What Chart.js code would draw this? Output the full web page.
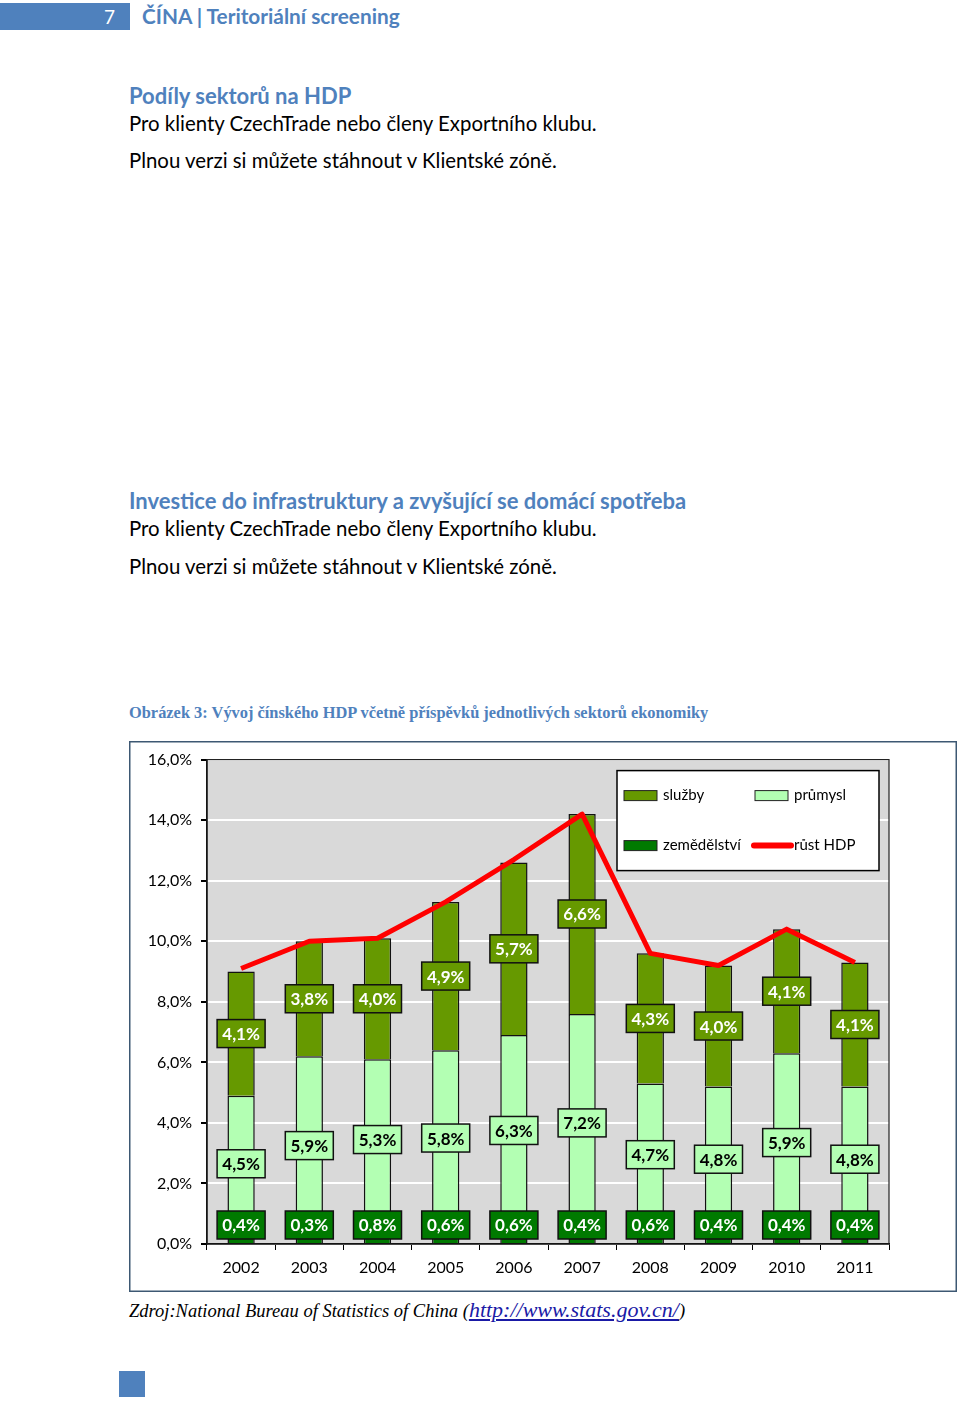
<!DOCTYPE html>
<html lang="cs">
<head>
<meta charset="utf-8">
<title>Čína – vývoj HDP</title>
<script src="https://cdn.jsdelivr.net/npm/chart.js@4.4.1/dist/chart.umd.min.js"></script>
<style>
body{margin:0;width:960px;height:1402px;position:relative;background:#fff;font-family:Lato,"Noto Sans",sans-serif;overflow:hidden}
.t{position:absolute;white-space:nowrap;line-height:1}
.blue{color:#4f81bd}
.h{font-weight:bold;font-size:22px}
.p{font-size:20.4px;color:#000}
#chart{position:absolute;left:129px;top:741px}
.src{font-family:"Liberation Serif",serif;font-style:italic;font-size:18.5px;color:#000}
.src a{color:#1a1aa6;font-size:22px;text-decoration:underline}
</style>
</head>
<body>
<div style="position:absolute;left:0;top:3px;width:130px;height:27px;background:#4f81bd"></div>
<div class="t" style="left:104px;top:7px;color:#fff;font-size:19px">7</div>
<div class="t blue" style="left:142px;top:6px;font-size:20.8px;font-weight:bold">ČÍNA | Teritoriální screening</div>

<div class="t blue h" style="left:129px;top:85px">Podíly sektorů na HDP</div>
<div class="t p" style="left:129px;top:113px">Pro klienty CzechTrade nebo členy Exportního klubu.</div>
<div class="t p" style="left:129px;top:150px">Plnou verzi si můžete stáhnout v Klientské zóně.</div>

<div class="t blue h" style="left:129px;top:490px">Investice do infrastruktury a zvyšující se domácí spotřeba</div>
<div class="t p" style="left:129px;top:518px">Pro klienty CzechTrade nebo členy Exportního klubu.</div>
<div class="t p" style="left:129px;top:556px">Plnou verzi si můžete stáhnout v Klientské zóně.</div>

<div class="t blue" style="left:129px;top:705px;font-family:'Liberation Serif',serif;font-weight:bold;font-size:16.4px">Obrázek 3: Vývoj čínského HDP včetně příspěvků jednotlivých sektorů ekonomiky</div>

<canvas id="chart" width="828" height="551"></canvas>

<div class="t src" style="left:129px;top:1299px">Zdroj:National Bureau of Statistics of China (<a>http://www.stats.gov.cn/</a>)</div>

<div style="position:absolute;left:119px;top:1371px;width:26px;height:26px;background:#4f81bd"></div>

<script>
// data
const years = ['2002', '2003', '2004', '2005', '2006', '2007', '2008', '2009', '2010', '2011'];
const zemedelstvi = [0.4, 0.3, 0.8, 0.6, 0.6, 0.4, 0.6, 0.4, 0.4, 0.4];
const prumysl = [4.5, 5.9, 5.3, 5.8, 6.3, 7.2, 4.7, 4.8, 5.9, 4.8];
const sluzby = [4.1, 3.8, 4.0, 4.9, 5.7, 6.6, 4.3, 4.0, 4.1, 4.1];
const rustHdp = [9.1, 10.0, 10.1, 11.3, 12.7, 14.2, 9.6, 9.2, 10.4, 9.3];
const yMin = 0, yMax = 16, yStep = 2;

const colZem = '#007a00';
const colPrum = '#b3ffb3';
const colSluz = '#669900';
const colHdp = '#ff0000';

function pct(v){
  return v.toFixed(1).replace('.', ',') + '%';
}

// frame + grey plot background + plot border
const backdrop = {
  id: 'backdrop',
  beforeDraw(chart){
    const c = chart.ctx, a = chart.chartArea;
    c.save();
    c.fillStyle = '#fff';
    c.fillRect(0, 0, chart.width, chart.height);
    c.strokeStyle = '#3d5873';
    c.lineWidth = 1.5;
    c.strokeRect(0.75, 0.75, chart.width - 1.5, chart.height - 1.5);
    c.fillStyle = '#d9d9d9';
    c.fillRect(a.left, a.top, a.right - a.left, a.bottom - a.top);
    c.restore();
  },
  beforeDatasetsDraw(chart){
    const c = chart.ctx, a = chart.chartArea;
    c.save();
    c.strokeStyle = '#222';
    c.lineWidth = 1.2;
    c.strokeRect(a.left, a.top, a.right - a.left, a.bottom - a.top);
    c.restore();
  }
};

// boxed value labels on the bar segments
const boxLabels = {
  id: 'boxLabels',
  afterDatasetsDraw(chart){
    const c = chart.ctx, a = chart.chartArea;
    c.save();
    c.font = 'bold 17px Lato, sans-serif';
    c.textAlign = 'center';
    c.textBaseline = 'middle';
    chart.data.datasets.forEach((ds, i) => {
      if (ds.type === 'line') return;
      chart.getDatasetMeta(i).data.forEach((el, j) => {
        const w = 48, h = 28;
        let y = (el.y + el.base) / 2;
        if (y > a.bottom - 19) y = a.bottom - 19;
        c.fillStyle = ds.backgroundColor;
        c.fillRect(el.x - w / 2, y - h / 2, w, h);
        c.strokeStyle = '#111';
        c.lineWidth = 1.5;
        c.strokeRect(el.x - w / 2, y - h / 2, w, h);
        c.fillStyle = ds.labelColor;
        c.fillText(pct(ds.data[j]), el.x, y + 1);
      });
    });
    c.restore();
  }
};

// legend box inside the plot (2 x 2)
const boxLegend = {
  id: 'boxLegend',
  afterDraw(chart){
    const c = chart.ctx, a = chart.chartArea;
    const L = a.right - 272, T = a.top + 11, W = 262, H = 100;
    c.save();
    c.fillStyle = '#fff';
    c.fillRect(L, T, W, H);
    c.strokeStyle = '#000';
    c.lineWidth = 1.5;
    c.strokeRect(L, T, W, H);
    c.font = '15px Lato, sans-serif';
    c.textBaseline = 'middle';
    c.textAlign = 'left';
    const items = [
      {t: 'služby', col: colSluz, x: L + 7, y: T + 25},
      {t: 'průmysl', col: colPrum, x: L + 138, y: T + 25},
      {t: 'zemědělství', col: colZem, x: L + 7, y: T + 75},
      {t: 'růst HDP', col: colHdp, x: L + 138, y: T + 75, line: true}
    ];
    items.forEach(it => {
      if (it.line) {
        c.strokeStyle = it.col;
        c.lineWidth = 6;
        c.lineCap = 'round';
        c.beginPath();
        c.moveTo(it.x - 1, it.y);
        c.lineTo(it.x + 36, it.y);
        c.stroke();
      } else {
        c.fillStyle = it.col;
        c.fillRect(it.x, it.y - 5, 33, 10);
        c.strokeStyle = '#222';
        c.lineWidth = 1;
        c.strokeRect(it.x, it.y - 5, 33, 10);
      }
      c.fillStyle = '#000';
      c.fillText(it.t, it.x + 39, it.y);
    });
    c.restore();
  }
};

new Chart(document.getElementById('chart').getContext('2d'), {
  type: 'bar',
  data: {
    labels: years,
    datasets: [
      {
        type: 'line',
        label: 'růst HDP',
        data: rustHdp,
        stack: 'hdp',
        order: 0,
        borderColor: colHdp,
        borderWidth: 5,
        pointRadius: 0,
        tension: 0,
        borderJoinStyle: 'round'
      },
      {label: 'zemědělství', data: zemedelstvi, backgroundColor: colZem, labelColor: '#fff', order: 1, stack: 's'},
      {label: 'průmysl', data: prumysl, backgroundColor: colPrum, labelColor: '#000', order: 1, stack: 's'},
      {label: 'služby', data: sluzby, backgroundColor: colSluz, labelColor: '#fff', order: 1, stack: 's'}
    ]
  },
  options: {
    responsive: false,
    animation: false,
    layout: {padding: {top: 17, right: 68, left: 0, bottom: 0}},
    datasets: {
      bar: {
        borderColor: '#111',
        borderWidth: 1.5,
        barPercentage: 0.4,
        categoryPercentage: 1
      }
    },
    scales: {
      x: {
        stacked: true,
        afterFit(scale){ scale.height = 48; },
        grid: {drawOnChartArea: false, tickLength: 6, tickColor: '#000', offset: true},
        border: {color: '#000', width: 1.5},
        ticks: {color: '#000', font: {family: 'Lato', size: 16}, padding: 8}
      },
      y: {
        stacked: true,
        min: yMin,
        max: yMax,
        afterFit(scale){ scale.width = 78; },
        grid: {color: '#fff', lineWidth: 2, tickLength: 6, tickColor: '#000'},
        border: {color: '#000', width: 1.5},
        ticks: {
          stepSize: yStep,
          color: '#000',
          font: {family: 'Lato', size: 16},
          padding: 9,
          callback: v => pct(v)
        }
      }
    },
    plugins: {
      legend: {display: false},
      tooltip: {enabled: false},
      title: {display: false}
    }
  },
  plugins: [backdrop, boxLabels, boxLegend]
});
</script>
</body>
</html>
